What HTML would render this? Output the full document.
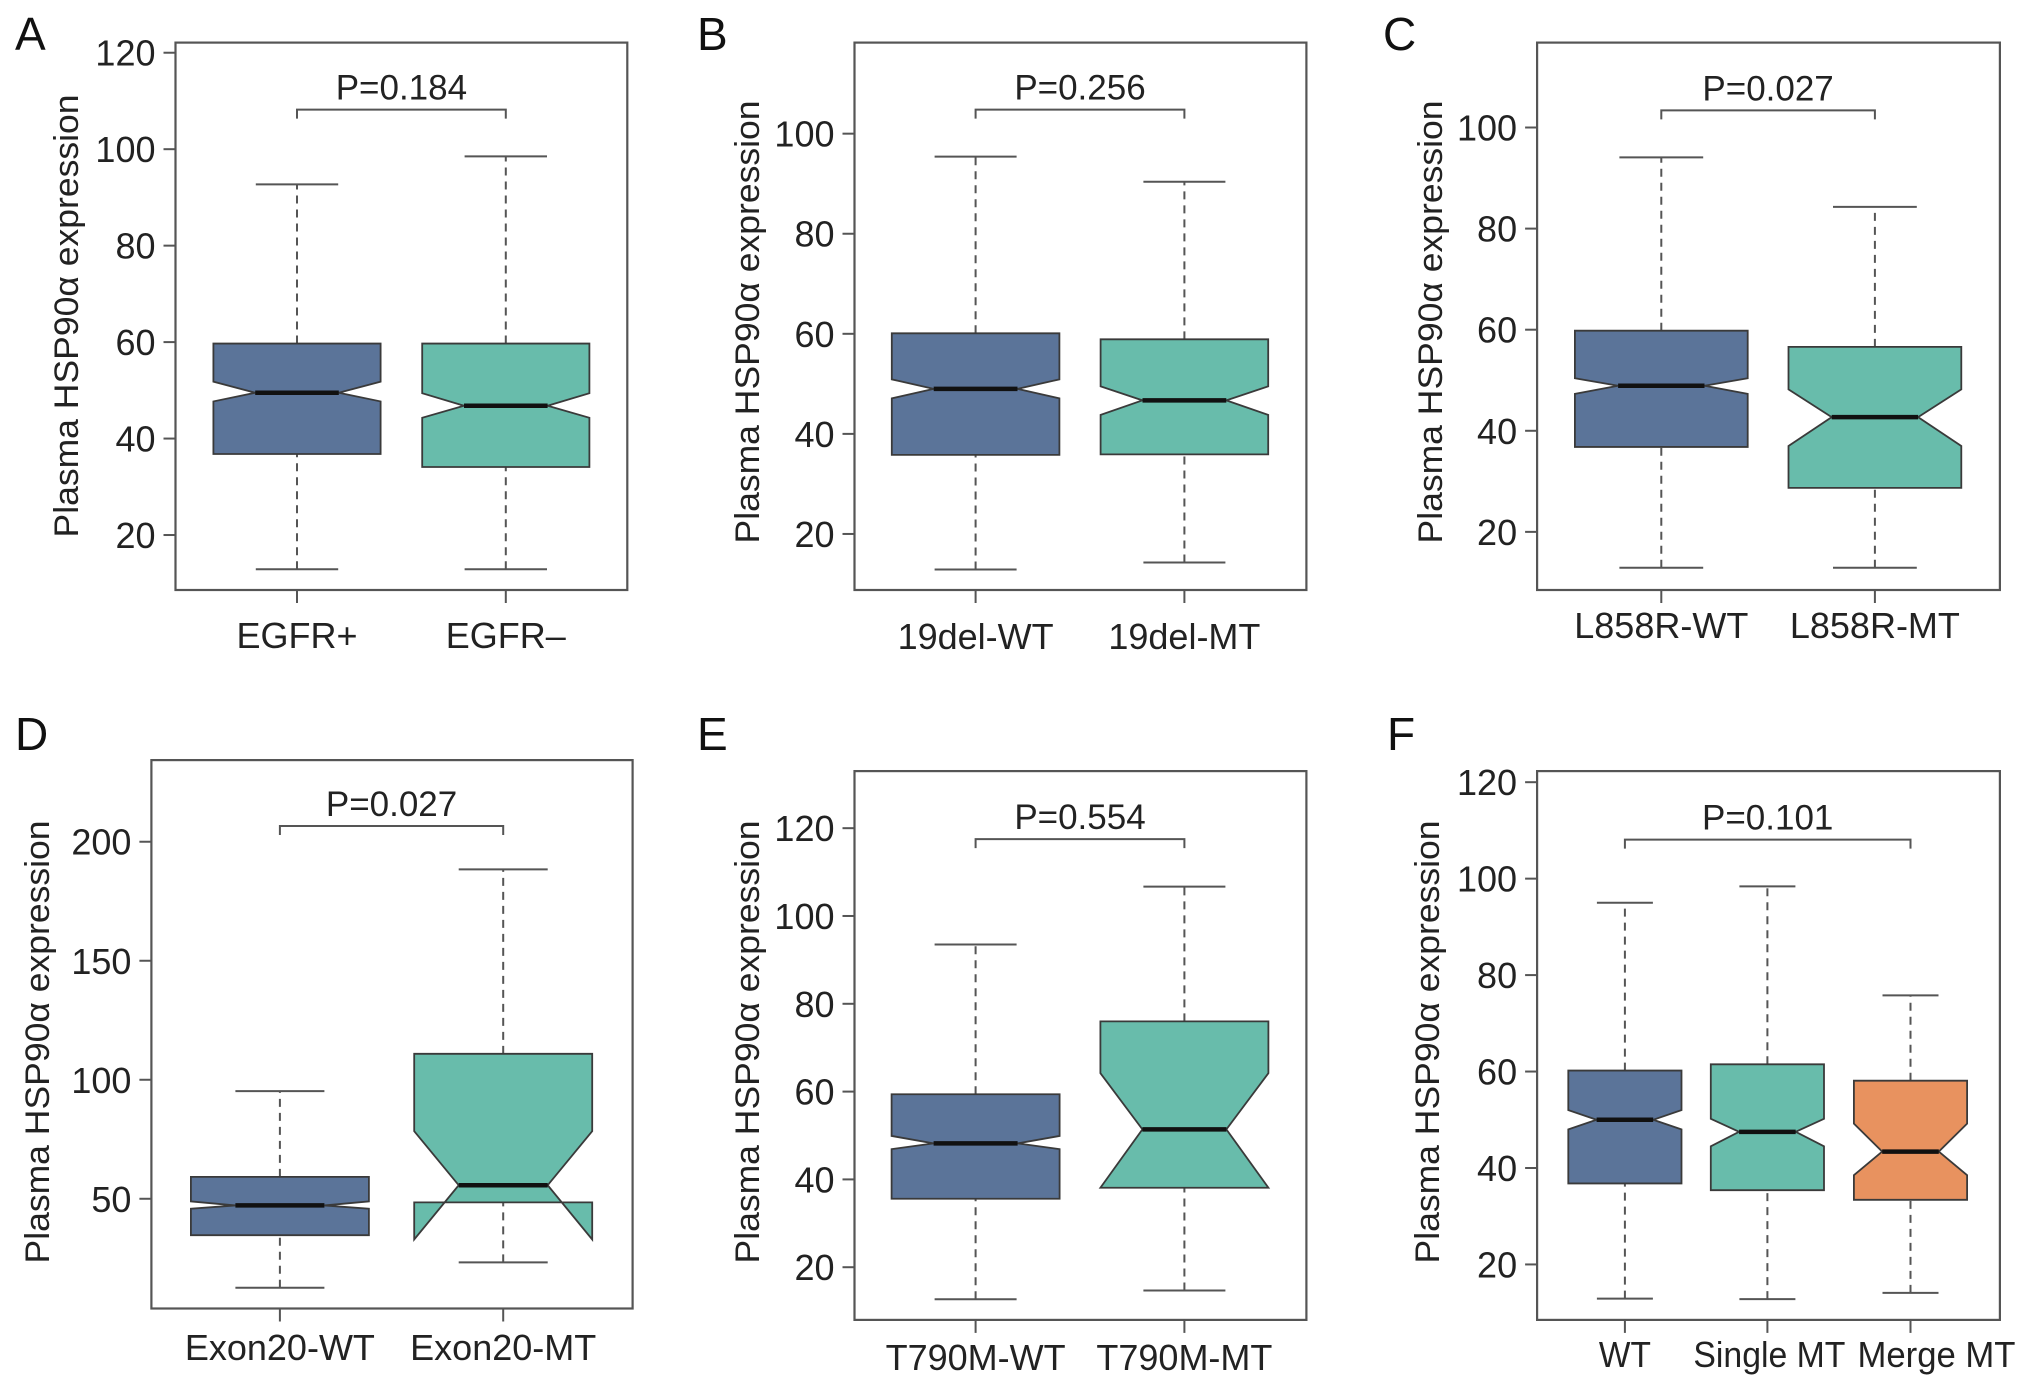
<!DOCTYPE html>
<html><head><meta charset="utf-8"><style>
html,body{margin:0;padding:0;background:#fff;}
svg{display:block;font-family:"Liberation Sans",Arial,sans-serif;}
</style></head><body>
<svg id="fig" width="2032" height="1379" viewBox="0 0 2032 1379" xmlns="http://www.w3.org/2000/svg"></svg>
<script>
// ---- data (per panel) ----
const panelLetters = ["A","B","C","D","E","F"];
const pValues = ["P=0.184","P=0.256","P=0.027","P=0.027","P=0.554","P=0.101"];
const categoriesA = ["EGFR+","EGFR\u2013"];
const categoriesB = ["19del-WT","19del-MT"];
const categoriesC = ["L858R-WT","L858R-MT"];
const categoriesD = ["Exon20-WT","Exon20-MT"];
const categoriesE = ["T790M-WT","T790M-MT"];
const categoriesF = ["WT","Single MT","Merge MT"];
// stats per group: [whiskerLow, Q1, notchLow, median, notchHigh, Q3, whiskerHigh]
const statsA = [[12.9,36.8,47.7,49.5,51.8,59.7,92.7],[12.9,34.1,44.3,46.8,49.4,59.7,98.5]];
const statsB = [[12.9,35.8,47.1,49.0,50.9,60.1,95.4],[14.3,35.9,43.8,46.7,49.5,58.9,90.4]];
const statsC = [[12.9,36.8,47.3,48.9,50.4,59.8,94.1],[12.9,28.7,37.0,42.7,48.2,56.6,84.3]];
const statsD = [[12.6,34.7,45.8,47.2,48.9,59.2,95.2],[23.3,48.5,32.9,55.7,78.4,110.9,188.4]];
const statsE = [[12.7,35.6,46.9,48.2,49.9,59.4,93.5],[14.7,38.1,38.1,51.4,64.2,76.0,106.7]];
const statsF = [[12.9,36.8,48.0,50.0,52.0,60.2,95.0],[12.8,35.4,44.5,47.5,50.2,61.5,98.4],[14.1,33.4,38.5,43.4,49.2,58.1,75.8]];
const ticksA = [20,40,60,80,100,120];
const ticksB = [20,40,60,80,100];
const ticksC = [20,40,60,80,100];
const ticksD = [50,100,150,200];
const ticksE = [20,40,60,80,100,120];
const ticksF = [20,40,60,80,100,120];
const bracketLevels = [108.2,104.8,103.4,206.6,117.5,108.1];
const fillColors = ["#5b7499","#68bcab","#e8925f"];

// ---- layout (pixels) ----
const layouts = [
 {x0:175.5,x1:627.3,y0:42.6,y1:590,yTop:122.1,yBot:8.6,cx:[297,505.8],bh:83.6,ch:41.2,lx:15,ly:50,ylx:66,yly:316,xlb:648},
 {x0:854.5,x1:1306.4,y0:42.6,y1:590,yTop:118.2,yBot:8.8,cx:[975.6,1184.4],bh:83.8,ch:41,lx:697,ly:50,ylx:747,yly:322,xlb:649},
 {x0:1537.1,x1:1999.9,y0:42.6,y1:590,yTop:116.8,yBot:8.5,cx:[1661.3,1874.9],bh:86.4,ch:41.9,lx:1383,ly:50,ylx:1430,yly:322,xlb:638},
 {x0:151.4,x1:632.6,y0:760.1,y1:1308.5,yTop:234.3,yBot:3.9,cx:[279.9,503.2],bh:89,ch:44.5,lx:15,ly:750,ylx:37,yly:1042,xlb:1360},
 {x0:854.5,x1:1306.4,y0:771.1,y1:1319.9,yTop:133,yBot:8.0,cx:[975.6,1184.4],bh:84,ch:41,lx:697,ly:750,ylx:747,yly:1042,xlb:1370},
 {x0:1537.1,x1:1999.9,y0:771.1,y1:1319.9,yTop:122.3,yBot:8.5,cx:[1624.9,1767.4,1910.5],bh:56.6,ch:28,lx:1387,ly:750,ylx:1427,yly:1042,xlb:1367,xlw:[52,152,158],xlo:[0,2,26]}
];
const allCats=[categoriesA,categoriesB,categoriesC,categoriesD,categoriesE,categoriesF];
const allStats=[statsA,statsB,statsC,statsD,statsE,statsF];
const allTicks=[ticksA,ticksB,ticksC,ticksD,ticksE,ticksF];

const NS="http://www.w3.org/2000/svg";
const svg=document.getElementById('fig');
function mk(tag,attrs,parent){const e=document.createElementNS(NS,tag);for(const k in attrs)e.setAttribute(k,attrs[k]);(parent||svg).appendChild(e);return e;}

for(let p=0;p<6;p++){
  const L=layouts[p],cats=allCats[p],st=allStats[p],tk=allTicks[p];
  const y=v=>L.y0+(L.yTop-v)/(L.yTop-L.yBot)*(L.y1-L.y0);
  const g=mk('g',{});
  
  
  const lt=mk('text',{x:L.lx,y:L.ly,'font-size':46,fill:'#111'},g);lt.textContent=panelLetters[p];
  
  
  const fr=mk('rect',{x:L.x0,y:L.y0,width:L.x1-L.x0,height:L.y1-L.y0,fill:'none',stroke:'#555','stroke-width':2.2},g);
  
  
  tk.forEach(t=>{
    const yy=y(t);
    const tl=mk('line',{x1:L.x0-12,x2:L.x0,y1:yy,y2:yy,stroke:'#555','stroke-width':2},g);
    
    
    const tx=mk('text',{x:L.x0-20,y:yy+13,'font-size':36,'text-anchor':'end',fill:'#222'},g);tx.textContent=t;
    
    
  });
  const yl=mk('text',{x:0,y:0,'font-size':34,'text-anchor':'middle',fill:'#222',transform:`translate(${L.ylx+12},${L.yly}) rotate(-90)`,textLength:443,lengthAdjust:'spacingAndGlyphs'},g);
  yl.textContent="Plasma HSP90\u03B1 expression";
  
  
  cats.forEach((c,i)=>{
    const cx=L.cx[i],s=st[i],bh=L.bh,ih=bh/2,ch=L.ch;
    const xt=mk('line',{x1:cx,x2:cx,y1:L.y1,y2:L.y1+13,stroke:'#555','stroke-width':2},g);
    
    
    const off=L.xlo?L.xlo[i]:0;
    const xa={x:cx+off,y:L.xlb,'font-size':36,'text-anchor':'middle',fill:'#222'};
    if(L.xlw){xa.textLength=L.xlw[i];xa.lengthAdjust='spacingAndGlyphs';}
    const xl=mk('text',xa,g);xl.textContent=c;
    
    
    [[s[0],s[1]],[s[5],s[6]]].forEach(([a,b])=>{
      const w=mk('line',{x1:cx,x2:cx,y1:y(a),y2:y(b),stroke:'#555','stroke-width':2,'stroke-dasharray':'8,6'},g);
      
      
    });
    [s[0],s[6]].forEach(v=>{
      const cp=mk('line',{x1:cx-ch,x2:cx+ch,y1:y(v),y2:y(v),stroke:'#555','stroke-width':2},g);
      
      
    });
    const Lx=cx-bh,Rx=cx+bh,Li=cx-ih,Ri=cx+ih;
    const pts=[[Lx,s[1]],[Lx,s[2]],[Li,s[3]],[Lx,s[4]],[Lx,s[5]],[Rx,s[5]],[Rx,s[4]],[Ri,s[3]],[Rx,s[2]],[Rx,s[1]]];
    const poly=mk('polygon',{points:pts.map(q=>q[0]+','+y(q[1])).join(' '),fill:fillColors[i],stroke:'#3a3a3a','stroke-width':1.8,'stroke-linejoin':'miter'},g);
    
    
    const md=mk('line',{x1:Li,x2:Ri,y1:y(s[3]),y2:y(s[3]),stroke:'#111','stroke-width':4.5},g);
    
    
  });
  const by=y(bracketLevels[p]),bx0=L.cx[0],bx1=L.cx[L.cx.length-1];
  const br=mk('path',{d:`M${bx0},${by+9} V${by} H${bx1} V${by+9}`,fill:'none',stroke:'#555','stroke-width':2},g);
  
  
  const pt=mk('text',{x:(bx0+bx1)/2,y:by-10,'font-size':35,'text-anchor':'middle',fill:'#222'},g);pt.textContent=pValues[p];
  
  
}
</script>
</body></html>
